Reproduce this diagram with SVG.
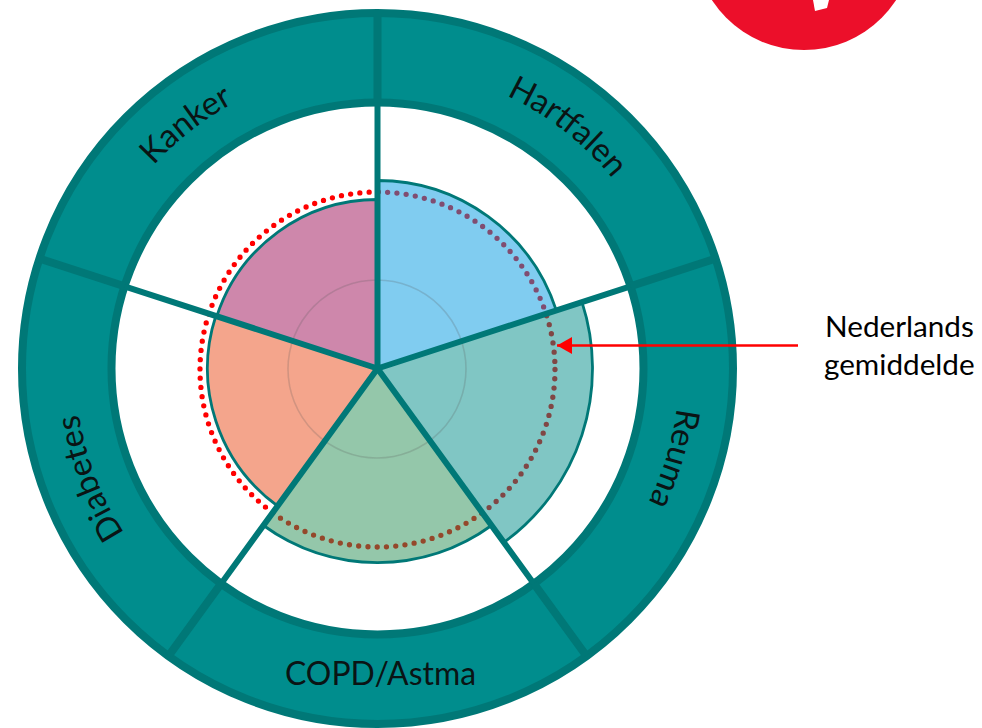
<svg xmlns="http://www.w3.org/2000/svg" width="982" height="728" viewBox="0 0 982 728">
<style>
.sector{stroke:#007877;stroke-width:2.8;stroke-linejoin:round}
.spoke{stroke:#007877;stroke-width:6;fill:none}
.div{stroke:#007877;stroke-width:8;fill:none}
.lab{font-family:Lato,"Liberation Sans",sans-serif;font-size:33px;fill:#0a1414}
.note{font-family:Lato,"Liberation Sans",sans-serif;font-size:29.7px;fill:#000}
</style>
<defs>
<path id="arc" d="M377.5 670.5A302 302 0 1 1 377.5 66.5A302 302 0 1 1 377.5 670.5" fill="none"/>
<marker id="head" markerUnits="userSpaceOnUse" markerWidth="16" markerHeight="18" refX="15" refY="8.5" orient="auto"><path d="M0 0L15 8.5L0 17Z" fill="#f00"/></marker>
</defs>
<rect width="982" height="728" fill="#fff"/>
<g id="logo"><circle cx="804" cy="-60" r="110" fill="#ec0f2a"/><path d="M813 0H829L827 8L815 11Z" fill="#fff"/></g>
<g id="ring"><path d="M377.5 13A355.5 355.5 0 1 1 377.5 724A355.5 355.5 0 1 1 377.5 13ZM377.5 102.5A266 266 0 1 0 377.5 634.5A266 266 0 1 0 377.5 102.5Z" fill="#008d8d" fill-rule="evenodd" stroke="#007877" stroke-width="8"/></g>
<g id="average"><circle cx="377.5" cy="369.5" r="177.5" fill="none" stroke="#f00" stroke-width="5.3" stroke-linecap="round" stroke-dasharray="0 9.3"/></g>
<g id="sector-hartfalen"><path class="sector" fill="#0199e1" fill-opacity=".5" d="M377.5 368.5V180.5A188 188 0 0 1 556.3 310.4Z"/></g>
<g id="sector-reuma"><path class="sector" fill="#018d89" fill-opacity=".5" d="M377.5 368.5L582 302.1A215 215 0 0 1 503.9 542.4Z"/></g>
<g id="sector-copd"><path class="sector" fill="#298f55" fill-opacity=".5" d="M377.5 368.5L491.5 525.5A194 194 0 0 1 263.5 525.5Z"/></g>
<g id="sector-diabetes"><path class="sector" fill="#e94b19" fill-opacity=".5" d="M377.5 368.5L277.6 506A170 170 0 0 1 215.8 316Z"/></g>
<g id="sector-kanker"><path class="sector" fill="#9d0f57" fill-opacity=".5" d="M377.5 368.5L216.8 316.3A169 169 0 0 1 377.5 199.5Z"/></g>
<g id="inner-circle"><circle cx="377" cy="369" r="89" fill="none" stroke="#555" stroke-opacity=".22" stroke-width="1.6"/></g>
<g id="connectors">
<path class="spoke" d="M377.5 368.5V102M377.5 368.5L630.5 286.3M377.5 368.5L533.9 583.7M377.5 368.5L221.1 583.7M377.5 368.5L124.5 286.3"/>
<path class="div" d="M377.5 102.5V13M630.5 286.3L715.1 258.8M533.9 583.7L586.2 655.7M221.1 583.7L168.8 655.7M124.5 286.3L39.9 258.8"/>
<path d="M798 345.5H557" stroke="#f00" stroke-width="2.5" fill="none" marker-end="url(#head)"/>
</g>
<g id="label-hartfalen"><text class="lab" text-anchor="middle"><textPath href="#arc" startOffset="60.6%">Hartfalen</textPath></text></g>
<g id="label-reuma"><text class="lab" text-anchor="middle"><textPath href="#arc" startOffset="79.7%">Reuma</textPath></text></g>
<g id="label-copd"><text class="lab" x="285" y="685" textLength="191" lengthAdjust="spacingAndGlyphs">COPD/Astma</text></g>
<g id="label-diabetes"><text class="lab" text-anchor="middle"><textPath href="#arc" startOffset="19.2%">Diabetes</textPath></text></g>
<g id="label-kanker"><text class="lab" text-anchor="middle"><textPath href="#arc" startOffset="39.4%">Kanker</textPath></text></g>
<g id="note"><text class="note" x="825" y="337">Nederlands</text><text class="note" x="824" y="375">gemiddelde</text></g>
</svg>
